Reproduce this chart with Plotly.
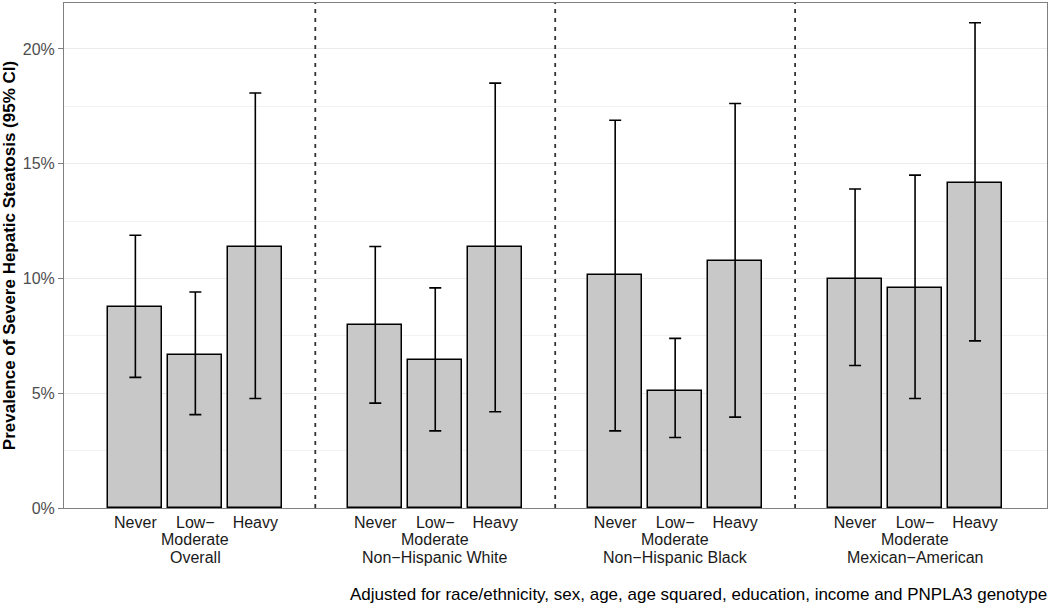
import plotly.graph_objects as go

# groups and drinking categories
groups = ["Overall", "Non−Hispanic White", "Non−Hispanic Black", "Mexican−American"]
levels = ["Never", "Low−", "Heavy"]
level_second_line = ["", "Moderate", ""]

# prevalence (%) and 95% CI, per group in the order Never, Low-Moderate, Heavy
prev = {
    "Overall": [8.76, 6.66, 11.36],
    "Non−Hispanic White": [7.96, 6.43, 11.36],
    "Non−Hispanic Black": [10.15, 5.11, 10.75],
    "Mexican−American": [9.97, 9.59, 14.16],
}
ci_low = {
    "Overall": [5.69, 4.07, 4.77],
    "Non−Hispanic White": [4.57, 3.36, 4.19],
    "Non−Hispanic Black": [3.36, 3.07, 3.96],
    "Mexican−American": [6.21, 4.77, 7.28],
}
ci_high = {
    "Overall": [11.88, 9.41, 18.08],
    "Non−Hispanic White": [11.39, 9.59, 18.51],
    "Non−Hispanic Black": [16.89, 7.39, 17.62],
    "Mexican−American": [13.90, 14.50, 21.14],
}

y_ticks = [0, 5, 10, 15, 20]
caption = "Adjusted for race/ethnicity, sex, age, age squared, education, income and PNPLA3 genotype"

xs, ys, err_up, err_dn, tick_text = [], [], [], [], []
for gi, g in enumerate(groups):
    for li, lev in enumerate(levels):
        pos = gi * 4 + li + 1
        v = prev[g][li]
        xs.append(pos)
        ys.append(v)
        err_up.append(ci_high[g][li] - v)
        err_dn.append(v - ci_low[g][li])
        tick_text.append(lev)

fig = go.Figure()
fig.add_trace(go.Bar(
    x=xs, y=ys, width=0.9,
    marker=dict(color="#c8c8c8", line=dict(color="black", width=1.5)),
    error_y=dict(type="data", symmetric=False, array=err_up, arrayminus=err_dn,
                 color="black", thickness=1.6, width=6),
    showlegend=False, hoverinfo="skip",
))

# dashed separators between groups
for gi in range(1, len(groups)):
    fig.add_shape(type="line", x0=gi * 4, x1=gi * 4, y0=0, y1=1,
                  xref="x", yref="paper",
                  line=dict(color="#333333", width=1.8, dash="4px,5px"))

# second line of tick labels and group names under each block
label_font = dict(family="Liberation Sans, Arial, sans-serif", size=16, color="#1a1a1a")
for gi, g in enumerate(groups):
    for li, extra in enumerate(level_second_line):
        if extra:
            fig.add_annotation(text=extra, x=gi * 4 + li + 1, y=0, xref="x", yref="paper",
                               yanchor="middle", yshift=-31, showarrow=False, font=label_font)
    fig.add_annotation(text=g, x=gi * 4 + 2, y=0, xref="x", yref="paper",
                       yanchor="middle", yshift=-49.5, showarrow=False, font=label_font)

fig.add_annotation(text=caption, x=1, y=0, xref="paper", yref="paper",
                   xanchor="right", yanchor="middle", yshift=-86, xshift=2,
                   showarrow=False, font=dict(size=17, color="black"))

fig.update_layout(
    width=1050, height=609,
    margin=dict(l=64, r=3, t=3, b=101),
    paper_bgcolor="white", plot_bgcolor="white",
    font=dict(family="Liberation Sans, Arial, sans-serif", size=16, color="#333333"),
    bargap=0,
)
fig.update_xaxes(
    range=[-0.19, 16.2], tickvals=xs, ticktext=tick_text, ticks="",
    tickangle=0, automargin=False,
    showgrid=False, zeroline=False,
    showline=True, mirror=True, linecolor="#7f7f7f", linewidth=1,
    tickfont=label_font,
)
fig.update_yaxes(
    range=[0, 22], tickvals=y_ticks, ticktext=[f"{t}%" for t in y_ticks],
    ticks="outside", ticklen=5, tickcolor="#7f7f7f", automargin=False,
    showgrid=True, gridcolor="#ebebeb", gridwidth=1,
    minor=dict(dtick=2.5, showgrid=True, gridcolor="#f2f2f2", gridwidth=1),
    zeroline=False,
    showline=True, mirror=True, linecolor="#7f7f7f", linewidth=1,
    tickfont=dict(size=16, color="#4d4d4d"),
    title=dict(text="<b>Prevalence of Severe Hepatic Steatosis (95% CI)</b>",
               font=dict(size=17, color="black"), standoff=4),
)

fig.write_html("out.html", config={"displayModeBar": False},
               post_script="document.body.style.margin='0';")
